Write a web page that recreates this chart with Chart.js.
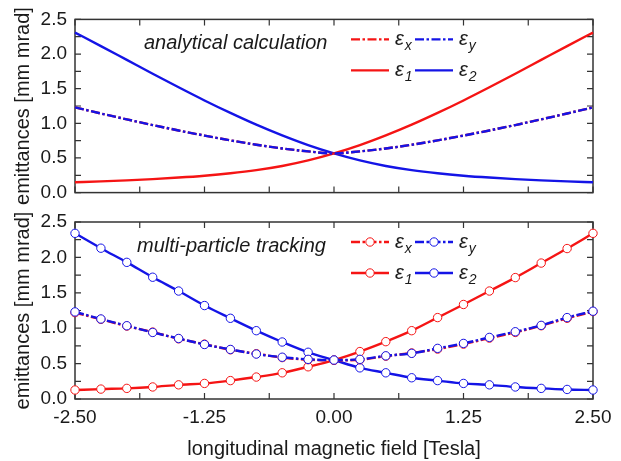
<!DOCTYPE html>
<html>
<head>
<meta charset="utf-8">
<script src="https://cdn.jsdelivr.net/npm/chart.js@4"></script>
<style>
  html, body { margin: 0; padding: 0; background: #fff; }
  #wrap { position: relative; width: 621px; height: 461px; }
  #arriba { position: absolute; left: 0; top: 0; }
  #abajo { position: absolute; left: 0; top: 200px; }
</style>
</head>
<body>
<div id="wrap">
  <canvas id="arriba" width="621" height="212"></canvas>
  <canvas id="abajo" width="621" height="261"></canvas>
</div>
<script>
// campo magnético longitudinal [T]
const campo = [-2.5, -2.25, -2.0, -1.75, -1.5, -1.25, -1.0, -0.75, -0.5, -0.25, 0,
               0.25, 0.5, 0.75, 1.0, 1.25, 1.5, 1.75, 2.0, 2.25, 2.5];

// cálculo analítico
const anaEps1 = [0.15, 0.162, 0.177, 0.195, 0.217, 0.244, 0.279, 0.324, 0.384, 0.464, 0.565,
                 0.685, 0.825, 0.98, 1.15, 1.33, 1.52, 1.715, 1.915, 2.115, 2.31];
const anaEps2 = [2.31, 2.115, 1.915, 1.715, 1.52, 1.33, 1.15, 0.98, 0.825, 0.685, 0.565,
                 0.464, 0.384, 0.324, 0.279, 0.244, 0.217, 0.195, 0.177, 0.162, 0.15];
const anaEpsX = [1.23, 1.142, 1.057, 0.975, 0.897, 0.823, 0.754, 0.691, 0.637, 0.595, 0.565,
                 0.595, 0.637, 0.691, 0.754, 0.823, 0.897, 0.975, 1.057, 1.142, 1.23];
const anaEpsY = [1.23, 1.142, 1.057, 0.975, 0.897, 0.823, 0.754, 0.691, 0.637, 0.595, 0.565,
                 0.595, 0.637, 0.691, 0.754, 0.823, 0.897, 0.975, 1.057, 1.142, 1.23];

// tracking multipartícula
const trkEps1 = [0.127, 0.14, 0.15, 0.17, 0.20, 0.22, 0.26, 0.31, 0.37, 0.455, 0.55,
                 0.67, 0.81, 0.965, 1.15, 1.335, 1.525, 1.715, 1.92, 2.125, 2.34];
const trkEps2 = [2.34, 2.13, 1.93, 1.72, 1.525, 1.32, 1.14, 0.965, 0.805, 0.66, 0.55,
                 0.44, 0.37, 0.30, 0.26, 0.22, 0.20, 0.17, 0.15, 0.135, 0.127];
const trkEpsX = [1.22, 1.125, 1.03, 0.945, 0.85, 0.775, 0.695, 0.64, 0.585, 0.555, 0.545,
                 0.555, 0.605, 0.65, 0.705, 0.775, 0.86, 0.94, 1.035, 1.14, 1.235];
const trkEpsY = [1.23, 1.13, 1.035, 0.94, 0.855, 0.77, 0.70, 0.635, 0.59, 0.56, 0.55,
                 0.56, 0.61, 0.645, 0.715, 0.785, 0.87, 0.95, 1.04, 1.15, 1.24];

const xTicks = [-2.5, -1.25, 0, 1.25, 2.5];
const yTicks = [0, 0.5, 1.0, 1.5, 2.0, 2.5];
const xMarcas = [-2.5, -1.875, -1.25, -0.625, 0, 0.625, 1.25, 1.875, 2.5];
const yMarcas = [0, 0.25, 0.5, 0.75, 1.0, 1.25, 1.5, 1.75, 2.0, 2.25, 2.5];

const ROJO = '#f51414';
const AZUL = '#1414e6';
const TINTA = '#1a1a1a';
const FUENTE = 'Arial, "Liberation Sans", sans-serif';
const PUNTEADO = [9, 2.5, 2.5, 2.5];

function serie(ys) {
    return campo.map((x, i) => ({ x: x, y: ys[i] }));
}

function conjunto(sub, ys, color, punteado, conMarcas) {
    return {
        sub: sub,
        data: serie(ys),
        borderColor: color,
        borderWidth: 2.4,
        borderDash: punteado ? PUNTEADO : [],
        pointRadius: conMarcas ? 4.2 : 0,
        pointBorderWidth: 1,
        pointBorderColor: color,
        pointBackgroundColor: '#fff',
        cubicInterpolationMode: 'monotone',
        clip: 8
    };
}

// marco y marcas hacia adentro
const marcoPlugin = {
    id: 'marco',
    beforeDatasetsDraw(chart) {
        const { ctx, chartArea: a, scales } = chart;
        ctx.save();
        ctx.strokeStyle = '#333';
        ctx.lineWidth = 1.5;
        ctx.strokeRect(a.left, a.top, a.right - a.left, a.bottom - a.top);
        ctx.lineWidth = 1.2;
        ctx.beginPath();
        xMarcas.forEach(v => {
            const px = scales.x.getPixelForValue(v);
            ctx.moveTo(px, a.bottom); ctx.lineTo(px, a.bottom - 6);
            ctx.moveTo(px, a.top); ctx.lineTo(px, a.top + 6);
        });
        yMarcas.forEach(v => {
            const py = scales.y.getPixelForValue(v);
            ctx.moveTo(a.left, py); ctx.lineTo(a.left + 6, py);
            ctx.moveTo(a.right, py); ctx.lineTo(a.right - 6, py);
        });
        ctx.stroke();
        ctx.restore();
    }
};

// leyenda y rótulo del panel
const leyendaPlugin = {
    id: 'leyenda',
    afterDraw(chart, args, opts) {
        const { ctx, chartArea: a } = chart;
        const sets = chart.data.datasets;
        ctx.save();
        ctx.fillStyle = TINTA;
        ctx.font = 'italic 20px ' + FUENTE;
        ctx.textBaseline = 'middle';
        ctx.fillText(opts.rotulo, opts.rotuloX, a.top + 24);

        const filas = [['x', 'y'], ['1', '2']];
        filas.forEach((fila, f) => {
            const y = a.top + 20 + f * 31;
            fila.forEach((sub, c) => {
                const ds = sets.find(d => d.sub === sub);
                const x0 = 351 + c * 64, x1 = x0 + 38, lx = x1 + 6;
                ctx.strokeStyle = ds.borderColor;
                ctx.lineWidth = ds.borderWidth;
                ctx.setLineDash(ds.borderDash);
                ctx.beginPath(); ctx.moveTo(x0, y); ctx.lineTo(x1, y); ctx.stroke();
                ctx.setLineDash([]);
                if (ds.pointRadius > 0) {
                    ctx.beginPath();
                    ctx.arc((x0 + x1) / 2, y, ds.pointRadius, 0, Math.PI * 2);
                    ctx.fillStyle = '#fff'; ctx.fill();
                    ctx.lineWidth = 1; ctx.stroke();
                }
                ctx.fillStyle = TINTA;
                ctx.textBaseline = 'alphabetic';
                ctx.font = 'italic 20px ' + FUENTE;
                ctx.fillText('ε', lx, y + 6);
                const w = ctx.measureText('ε').width;
                ctx.font = 'italic 14px ' + FUENTE;
                ctx.fillText(sub, lx + w + 1, y + 11);
            });
        });
        ctx.restore();
    }
};

function opciones(cfg) {
    return {
        responsive: false,
        animation: false,
        layout: { padding: { top: cfg.arriba, left: 10, right: 28, bottom: 0 } },
        plugins: {
            legend: { display: false },
            tooltip: { enabled: false },
            leyenda: { rotulo: cfg.rotulo, rotuloX: cfg.rotuloX }
        },
        scales: {
            x: {
                type: 'linear', min: -2.5, max: 2.5,
                grid: { display: false, drawTicks: false },
                border: { display: false },
                afterBuildTicks: s => { s.ticks = xTicks.map(v => ({ value: v })); },
                afterFit: s => { s.height = cfg.altoX; },
                ticks: {
                    display: cfg.conEjeX, padding: 7, color: TINTA,
                    font: { size: 19, family: FUENTE },
                    maxRotation: 0,
                    callback: v => v.toFixed(2)
                },
                title: {
                    display: cfg.conEjeX,
                    text: 'longitudinal magnetic field [Tesla]',
                    color: TINTA, font: { size: 20, family: FUENTE },
                    padding: { top: 0, bottom: 0 }
                }
            },
            y: {
                min: 0, max: 2.5,
                grid: { display: false, drawTicks: false },
                border: { display: false },
                afterBuildTicks: s => { s.ticks = yTicks.map(v => ({ value: v })); },
                afterFit: s => { s.width = 65; },
                ticks: {
                    padding: 8, color: TINTA,
                    font: { size: 19, family: FUENTE },
                    callback: v => v.toFixed(1)
                },
                title: {
                    display: true, text: 'emittances [mm mrad]',
                    color: TINTA, font: { size: 20, family: FUENTE },
                    padding: { top: 1, bottom: 0 }
                }
            }
        }
    };
}

new Chart(document.getElementById('arriba'), {
    type: 'line',
    data: {
        datasets: [
            conjunto('y', anaEpsY, AZUL, true, false),
            conjunto('x', anaEpsX, ROJO, true, false),
            conjunto('1', anaEps1, ROJO, false, false),
            conjunto('2', anaEps2, AZUL, false, false)
        ]
    },
    options: opciones({ arriba: 19, altoX: 16, conEjeX: false,
                        rotulo: 'analytical calculation', rotuloX: 144 }),
    plugins: [marcoPlugin, leyendaPlugin]
});

new Chart(document.getElementById('abajo'), {
    type: 'line',
    data: {
        datasets: [
            conjunto('y', trkEpsY, AZUL, true, true),
            conjunto('x', trkEpsX, ROJO, true, true),
            conjunto('1', trkEps1, ROJO, false, true),
            conjunto('2', trkEps2, AZUL, false, true)
        ]
    },
    options: opciones({ arriba: 22, altoX: 62, conEjeX: true,
                        rotulo: 'multi-particle tracking', rotuloX: 137 }),
    plugins: [marcoPlugin, leyendaPlugin]
});
</script>
</body>
</html>
